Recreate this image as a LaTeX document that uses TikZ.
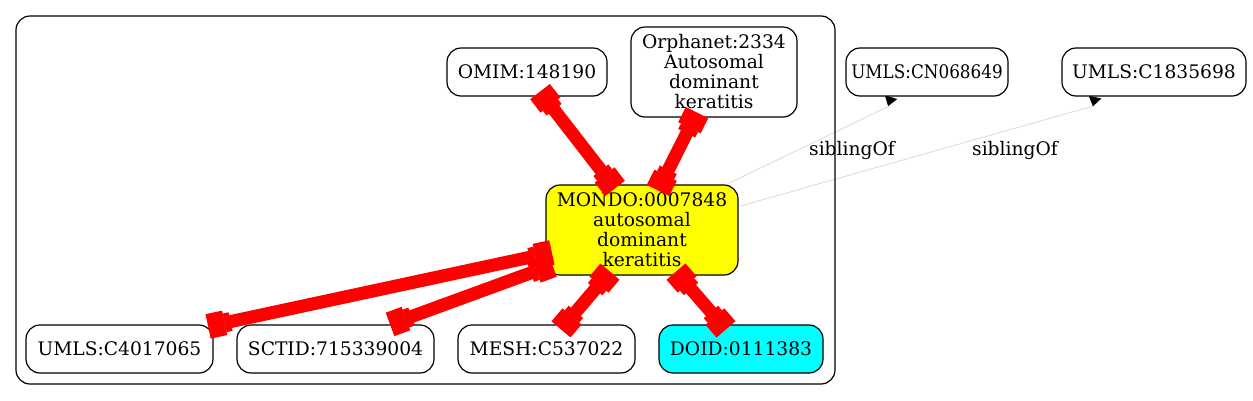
\documentclass[tikz,border=0pt]{standalone}
\usepackage{fontspec}
\setmainfont{DejaVu Serif}
\usetikzlibrary{arrows.meta,calc}
\pgfdeclarelayer{bg}
\pgfsetlayers{bg,main}
\newcommand\gvfont{\fontsize{18.67}{20}\selectfont}
\definecolor{sibgray}{RGB}{218,218,218}
\definecolor{gvyellow}{RGB}{255,255,0}
\definecolor{gvcyan}{RGB}{0,255,255}
\definecolor{gvred}{RGB}{255,0,0}
\tikzset{
  gvbox/.style={draw=black, line width=1.2pt, rounded corners=14pt, fill=white,
    inner sep=0pt, align=center, font=\gvfont, minimum height=48pt},
  cluster/.style={draw=black, line width=1.2pt, rounded corners=14pt, inner sep=0pt},
  redge/.style={draw=gvred, line width=13pt,
    arrows={{Square[width=25pt,length=17pt,line width=0pt,sep=0pt]Square[width=19pt,length=6pt,line width=0pt,sep=0pt]}-{Square[width=19pt,length=6pt,line width=0pt,sep=0pt]Square[width=25pt,length=17pt,line width=0pt,sep=0pt]}}},
  sib/.style={draw=sibgray, line width=0.8pt,
    arrows={-{Triangle[reversed,length=9.5pt,width=13pt,color=black,line width=0pt]}}},
  lab/.style={font=\gvfont, inner sep=0pt}
}
\begin{document}
\begin{tikzpicture}[x=1pt,y=-1pt]
\path[use as bounding box] (0,0) rectangle (1253,400);
\node[cluster, minimum width=819pt, minimum height=368pt] (clus) at (425.5,200) {};
\node[gvbox, minimum width=160pt] (omim) at (527,72) {OMIM:148190};
\node[gvbox, minimum width=166pt, minimum height=90pt] (orpha) at (714,72) {Orphanet:2334\\Autosomal\\dominant\\keratitis};
\node[gvbox, minimum width=162pt] (cn) at (927,72) {\addfontfeature{FakeStretch=0.9}UMLS:CN068649};
\node[gvbox, minimum width=184pt] (c18) at (1154,72) {UMLS:C1835698};
\node[gvbox, fill=gvyellow, minimum width=192pt, minimum height=90pt] (mondo) at (642,230) {MONDO:0007848\\autosomal\\dominant\\keratitis};
\node[gvbox, minimum width=187pt] (c40) at (119.5,349) {UMLS:C4017065};
\node[gvbox, minimum width=197pt] (sct) at (335.5,349) {SCTID:715339004};
\node[gvbox, minimum width=177pt] (mesh) at (546.5,349) {MESH:C537022};
\node[gvbox, fill=gvcyan, minimum width=164pt] (doid) at (741,349) {DOID:0111383};
\begin{pgfonlayer}{bg}
\draw[sib] ($(mondo.north east)+(-10,-1)$) -- ($(cn.south)+(-39,10)$) -- ($(cn.south)+(-36,0.5)$);
\draw[sib] ($(mondo.east)+(2,-24)$) -- ($(c18.south)+(-61,9.5)$) -- ($(c18.south)+(-59,0.5)$);
\end{pgfonlayer}
\draw[redge] ($(omim.south)+(13,-5)$) -- ($(mondo.north)+(-27,4)$);
\draw[redge] ($(orpha.south)+(-17,-5)$) -- ($(mondo.north)+(16,6)$);
\draw[redge] ($(mondo.west)+(6.5,22.5)$) -- ($(c40.north east)+(-5.5,2)$);
\draw[redge] ($(mondo.west)+(7,35)$) -- ($(sct.north)+(54.5,0)$);
\draw[redge] ($(mondo.south)+(-32,-4)$) -- ($(mesh.north)+(14.5,5)$);
\draw[redge] ($(mondo.south)+(34,-4)$) -- ($(doid.north)+(-15,5)$);
\node[lab] (l1) at (852,150) {siblingOf};
\node[lab] (l2) at (1015,150) {siblingOf};
\end{tikzpicture}
\end{document}
